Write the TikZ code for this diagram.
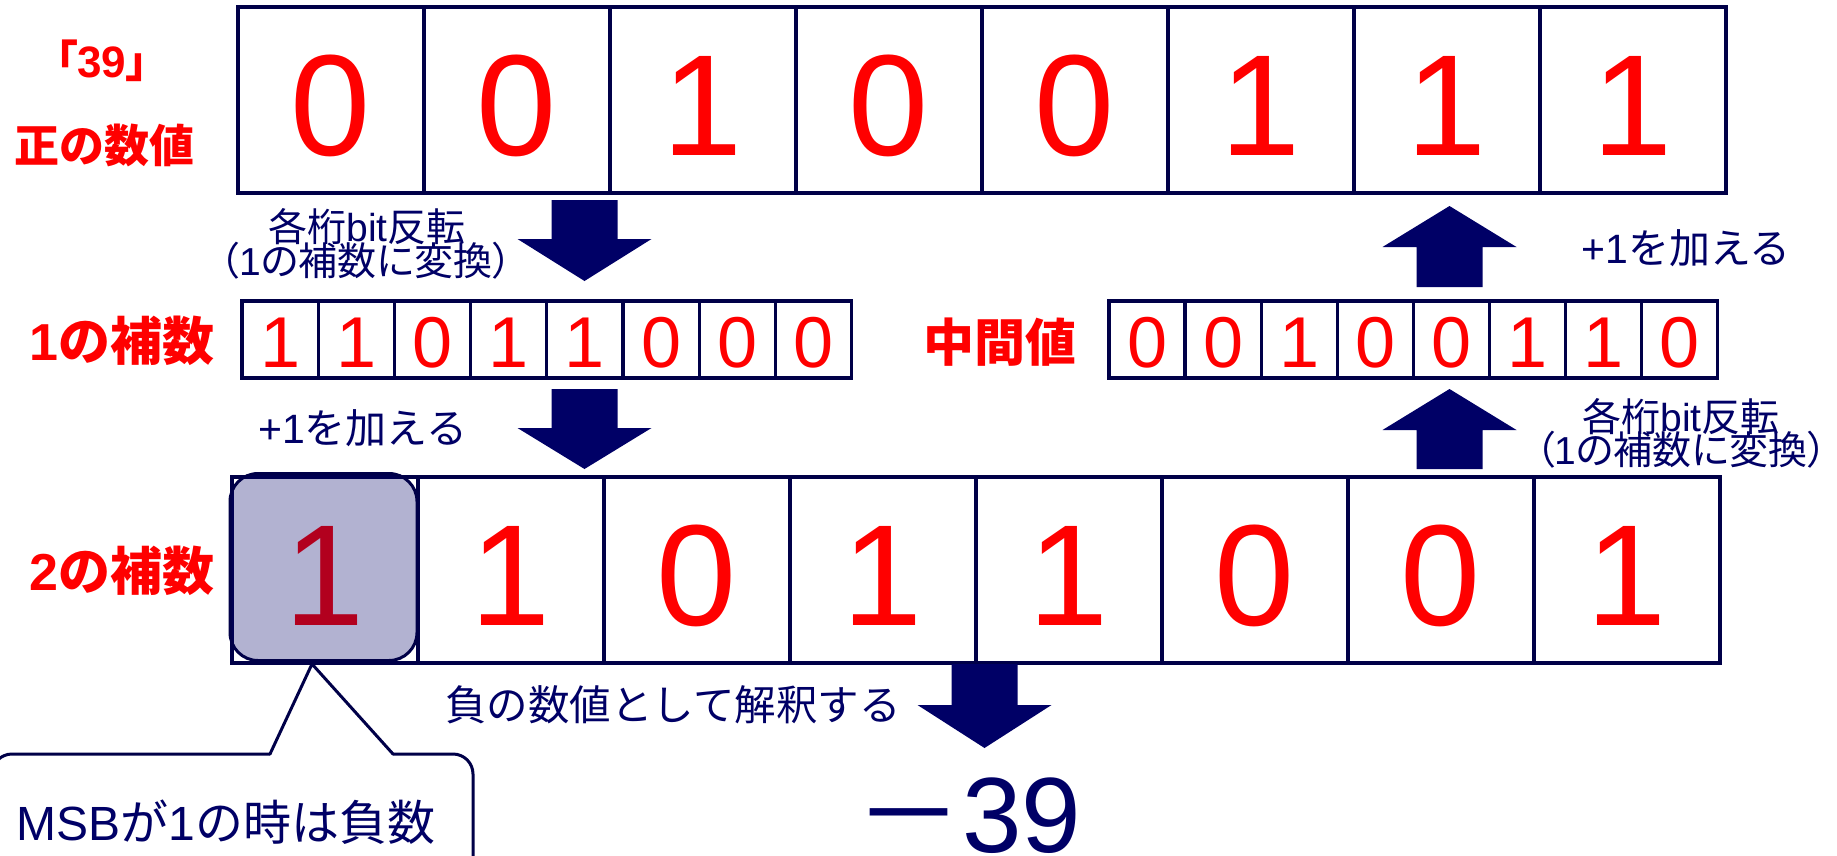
\documentclass[tikz,border=0pt]{standalone}
\usepackage{fontspec}
\setmainfont{Liberation Sans}
\newfontfamily\jp{Noto Sans CJK JP}
\newfontfamily\jpp{Noto Sans CJK JP}[RawFeature=+palt]
\definecolor{navy}{RGB}{0,0,102}
\definecolor{lineclr}{RGB}{0,0,72}
\definecolor{bitred}{RGB}{255,0,0}
\newcommand\blkarrow[4]{\fill[navy] ({#1-33},#2) -- ({#1+33},#2) -- ({#1+33},#3) -- ({#1+67},#3) -- (#1,#4) -- ({#1-67},#3) -- ({#1-33},#3) -- cycle;}
\begin{document}
\begin{tikzpicture}[x=1pt,y=-1pt,
  bigcell/.style={draw=lineclr, line width=3.2pt, minimum width=186pt, minimum height=186pt,
    inner sep=0pt, outer sep=0pt, text height=110pt, text depth=0pt, text=bitred,
    font=\fontsize{144}{144}\selectfont},
  smallcell/.style={draw=lineclr, line width=3.2pt, minimum width=76.2pt, minimum height=77pt,
    inner sep=0pt, outer sep=0pt, text height=56pt, text depth=0pt, text=bitred,
    font=\fontsize{72}{72}\selectfont},
  lbl/.style={text=bitred, inner sep=0pt, anchor=base},
  note/.style={text=navy, inner sep=0pt, anchor=base},
  upper/.style={text depth=0pt},
  lower/.style={text height=28pt},
  calloutline/.style={draw=lineclr, line width=3pt, line cap=round, line join=miter}
]
\useasboundingbox (0,0) rectangle (1837,855);
\clip (0,0) rectangle (1837,855);

% rows of bits
\foreach \d [count=\i from 0] in {0,0,1,0,0,1,1,1}
  \node[bigcell] (p\i) at ({331+186*\i},100) {\d};
\foreach \d [count=\i from 0] in {1,1,0,1,1,0,0,0}
  \node[smallcell] (c\i) at ({280.1+76.2*\i},339.5) {\d};
\foreach \d [count=\i from 0] in {0,0,1,0,0,1,1,0}
  \node[smallcell] (m\i) at ({1147.05+76.1*\i},339.5) {\d};
\foreach \d [count=\i from 0] in {1,1,0,1,1,0,0,1}
  \node[bigcell] (t\i) at ({325+186*\i},570) {\d};

% MSB highlight
\node[draw=lineclr, line width=3pt, fill=navy, fill opacity=0.3, rounded corners=28pt,
  minimum width=187pt, minimum height=187pt, inner sep=0pt] (msb) at (323.5,567) {};

% row labels
\node[lbl, font=\fontsize{44}{44}\selectfont\bfseries] (l39) at (102,77) {{\jpp 「}39{\jpp 」}};
\node[lbl, font=\fontsize{45}{45}\selectfont\bfseries\jp] (lpos) at (104,162) {正の数値};
\node[lbl, font=\fontsize{52}{52}\selectfont\bfseries] (l1c) at (122,360) {1{\jp の補数}};
\node[lbl, font=\fontsize{51}{51}\selectfont\bfseries\jp] (lmid) at (1000,361) {中間値};
\node[lbl, font=\fontsize{52}{52}\selectfont\bfseries] (l2c) at (122,590) {2{\jp の補数}};

% block arrows
\blkarrow{584.5}{200}{239}{281}
\blkarrow{584.5}{389}{428}{469}
\blkarrow{1449.5}{287}{247}{206}
\blkarrow{1449.5}{469}{430}{389}
\blkarrow{984.5}{664}{705}{748}

% notes
\node[note, upper, font=\fontsize{39}{39}\selectfont] (inv1a) at (367,241) {{\jp 各桁}bit{\jp 反転}};
\node[note, lower, font=\fontsize{39}{39}\selectfont\jpp] (inv1b) at (366,275) {（{\rmfamily 1}の補数に変換）};
\node[note, font=\fontsize{41}{41}\selectfont] (add1) at (363,443) {+1{\jp を加える}};
\node[note, font=\fontsize{41}{41}\selectfont] (add2) at (1686,263) {+1{\jp を加える}};
\node[note, upper, font=\fontsize{39}{39}\selectfont] (inv2a) at (1681,431) {{\jp 各桁}bit{\jp 反転}};
\node[note, lower, font=\fontsize{39}{39}\selectfont\jpp] (inv2b) at (1681,464) {（{\rmfamily 1}の補数に変換）};
\node[note, font=\fontsize{41.5}{41.5}\selectfont\jp] (interp) at (673,720) {負の数値として解釈する};
\node[note, text depth=0pt, font=\fontsize{107}{107}\selectfont] (neg) at (968,852) {{\jp －}39};

% callout
\coordinate (tip) at (312,664);
\coordinate (bl) at (270,754);
\coordinate (br) at (393,754);
\draw[calloutline, rounded corners=20pt] (-8,900) -- (-8,754) -- (bl);
\draw[calloutline] (bl) -- (tip) -- (br);
\draw[calloutline, rounded corners=20pt] (br) -- (473,754) -- (473,900);
\node[note, text depth=0pt, font=\fontsize{48}{48}\selectfont] (msbtxt) at (226,840) {MSB{\jp が}1{\jp の時は負数}};
\end{tikzpicture}
\end{document}
